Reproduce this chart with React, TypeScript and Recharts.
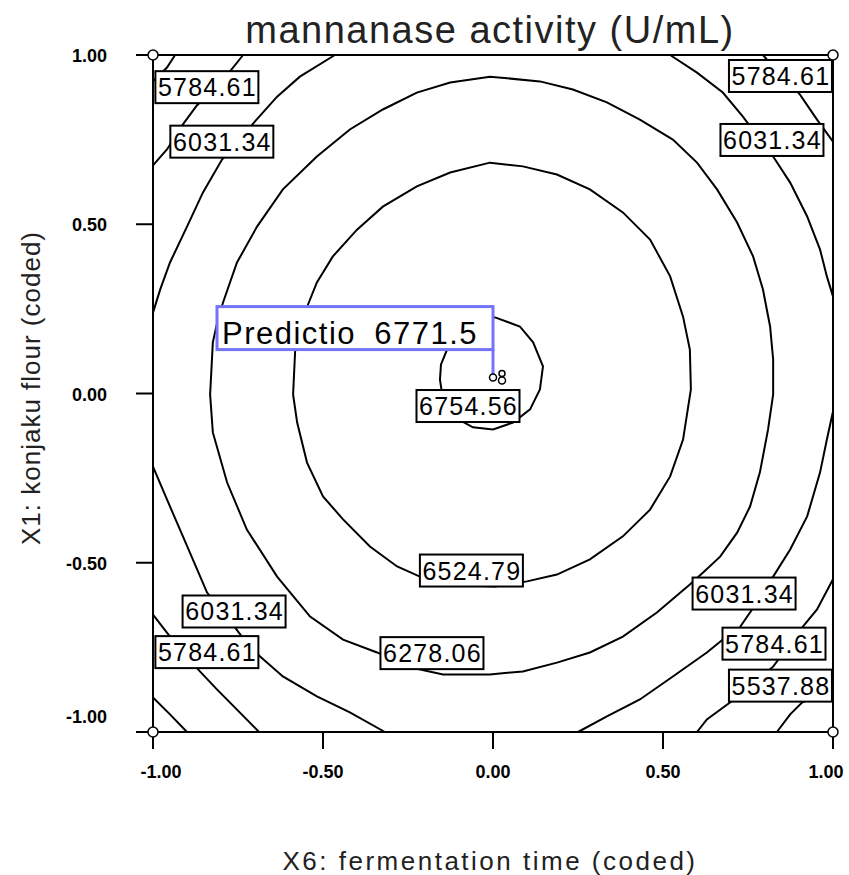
import React from "react";
import { ScatterChart, Scatter, XAxis, YAxis, ReferenceLine } from "recharts";

// coded factor axes
const axisTicks = [-1, -0.5, 0, 0.5, 1];
const axisTickLabels = ["-1.00", "-0.50", "0.00", "0.50", "1.00"];

const chartTitle = "mannanase activity (U/mL)";
const xTitle = "X6: fermentation time (coded)";
const yTitle = "X1: konjaku flour (coded)";

// contour lines, [x, y] in coded units
const contour6754_56 = [
  [0.006, 0.225], [0.079, 0.198], [0.118, 0.151], [0.147, 0.08], [0.138, 0.012],
  [0.109, -0.047], [0.059, -0.086], [0, -0.106], [-0.059, -0.1], [-0.112, -0.071],
  [-0.147, -0.018], [-0.156, 0.041], [-0.153, 0.086], [-0.135, 0.13], [-0.103, 0.177],
  [-0.053, 0.213], [0.006, 0.225],
];

const contour6524_79 = [
  [-0.588, -0.003], [-0.582, 0.124], [-0.565, 0.195], [-0.544, 0.263], [-0.518, 0.328],
  [-0.471, 0.405], [-0.4, 0.484], [-0.324, 0.552], [-0.224, 0.612], [-0.126, 0.653],
  [-0.009, 0.682], [0.088, 0.671], [0.188, 0.647], [0.285, 0.603], [0.382, 0.535],
  [0.462, 0.455], [0.521, 0.346], [0.559, 0.227], [0.579, 0.13], [0.582, 0.012],
  [0.559, -0.136], [0.521, -0.245], [0.462, -0.343], [0.382, -0.422], [0.285, -0.49],
  [0.188, -0.535], [0.1, -0.555], [0.006, -0.57], [-0.074, -0.567], [-0.156, -0.555],
  [-0.215, -0.541], [-0.282, -0.511], [-0.362, -0.452], [-0.441, -0.372], [-0.5, -0.304],
  [-0.547, -0.204], [-0.576, -0.086], [-0.588, -0.003],
];

const contour6278_06 = [
  [-0.832, -0.003], [-0.824, 0.151], [-0.809, 0.219], [-0.794, 0.269], [-0.753, 0.387],
  [-0.694, 0.493], [-0.618, 0.603], [-0.518, 0.7], [-0.421, 0.78], [-0.324, 0.839],
  [-0.224, 0.889], [-0.126, 0.919], [-0.009, 0.936], [0.138, 0.922], [0.235, 0.898],
  [0.335, 0.86], [0.432, 0.809], [0.529, 0.75], [0.6, 0.682], [0.659, 0.603],
  [0.718, 0.505], [0.765, 0.405], [0.794, 0.307], [0.815, 0.198], [0.824, 0.1],
  [0.824, -0.003], [0.809, -0.106], [0.785, -0.233], [0.756, -0.334], [0.718, -0.411],
  [0.668, -0.482], [0.618, -0.529], [0.579, -0.564], [0.482, -0.647], [0.382, -0.718],
  [0.285, -0.765], [0.188, -0.795], [0.088, -0.821], [-0.009, -0.83], [-0.147, -0.83],
  [-0.244, -0.809], [-0.341, -0.765], [-0.441, -0.727], [-0.538, -0.659], [-0.635, -0.541],
  [-0.724, -0.402], [-0.782, -0.263], [-0.824, -0.115], [-0.832, -0.003],
];

// the outer levels are cut by the frame, so they come in pieces
const contour6031_34 = [
  [
    [-0.465, 1], [-0.568, 0.936], [-0.635, 0.877], [-0.7, 0.804], [-0.75, 0.744],
    [-0.797, 0.691], [-0.853, 0.594], [-0.9, 0.493], [-0.95, 0.387], [-0.979, 0.307], [-1, 0.239],
  ],
  [
    [-1, -0.216], [-0.959, -0.313], [-0.912, -0.422], [-0.841, -0.588], [-0.797, -0.641],
    [-0.759, -0.691], [-0.721, -0.742], [-0.685, -0.777], [-0.618, -0.836], [-0.518, -0.895],
    [-0.421, -0.942], [-0.318, -1],
  ],
  [
    [0.25, -1], [0.335, -0.954], [0.432, -0.904], [0.529, -0.836], [0.629, -0.765],
    [0.676, -0.727], [0.726, -0.691], [0.762, -0.638], [0.824, -0.541], [0.874, -0.461],
    [0.924, -0.363], [0.962, -0.233], [0.982, -0.136], [1, -0.053],
  ],
  [
    [0.521, 1], [0.6, 0.948], [0.676, 0.889], [0.735, 0.818], [0.779, 0.759],
    [0.824, 0.7], [0.874, 0.623], [0.924, 0.523], [0.962, 0.425], [0.982, 0.346], [1, 0.287],
  ],
];

const contour5784_61 = [
  [[-0.735, 1], [-0.774, 0.951], [-0.824, 0.898], [-0.871, 0.851], [-0.912, 0.795], [-0.959, 0.721], [-1, 0.674]],
  [[-1, -0.653], [-0.95, -0.718], [-0.906, -0.771], [-0.862, -0.821], [-0.812, -0.874], [-0.753, -0.934], [-0.688, -1]],
  [
    [1, -0.549], [0.953, -0.638], [0.912, -0.688], [0.868, -0.747], [0.824, -0.807],
    [0.756, -0.863], [0.697, -0.913], [0.629, -0.963], [0.6, -1],
  ],
  [[0.794, 1], [0.844, 0.942], [0.903, 0.883], [0.953, 0.809], [1, 0.744]],
];

const contour5537_88 = [
  [[-0.935, 1], [-0.959, 0.963], [-1, 0.922]],
  [[-1, -0.898], [-0.95, -0.948], [-0.9, -1]],
  [[1, -0.857], [0.947, -0.895], [0.909, -0.913], [0.874, -0.948], [0.835, -1]],
];

// where the level boxes sit
const labelX = [-0.843, -0.799, 0.844, 0.819, -0.075, -0.065, -0.181, -0.763, -0.843, 0.737, 0.825, 0.844];
const labelY = [0.905, 0.744, 0.938, 0.749, -0.037, -0.523, -0.767, -0.644, -0.764, -0.591, -0.739, -0.863];
const labelText = [
  "5784.61", "6031.34", "5784.61", "6031.34", "6754.56", "6524.79",
  "6278.06", "6031.34", "5784.61", "6031.34", "5784.61", "5537.88",
];

const designX = [-1, 1, -1, 1];
const designY = [1, 1, -1, -1];

const predictionX = 0;
const predictionY = 0.047;
const predictionValue = "6771.5";

const FONT = "'Liberation Sans', Arial, sans-serif";

const toPts = (a: number[][]) => a.map(([x, y]) => ({ x, y }));

const contourPieces: { x: number; y: number }[][] = [
  toPts(contour6754_56),
  toPts(contour6524_79),
  toPts(contour6278_06),
  ...contour6031_34.map(toPts),
  ...contour5784_61.map(toPts),
  ...contour5537_88.map(toPts),
];

const labelData = labelText.map((text, i) => ({ x: labelX[i], y: labelY[i], text }));
const designData = designX.map((x, i) => ({ x, y: designY[i] }));
const predictionData = [{ x: predictionX, y: predictionY, value: predictionValue }];

const NoDot = () => <g />;

const XTick = (props: any) => {
  const { x, y, payload } = props;
  const v = payload.value;
  const i = axisTicks.findIndex((t) => Math.abs(t - v) < 1e-9);
  const shift = v === -1 ? 8 : v === 1 ? -7 : 0;
  return (
    <text x={x + shift} y={y + 29} textAnchor="middle" fontFamily={FONT} fontWeight="bold" fontSize={18} fill="#000">
      {axisTickLabels[i]}
    </text>
  );
};

const YTick = (props: any) => {
  const { x, y, payload } = props;
  const v = payload.value;
  const i = axisTicks.findIndex((t) => Math.abs(t - v) < 1e-9);
  const dy = v === -1 ? -9 : 7;
  return (
    <text x={x - 29} y={y + dy} textAnchor="end" fontFamily={FONT} fontWeight="bold" fontSize={18} fill="#000">
      {axisTickLabels[i]}
    </text>
  );
};

const LevelBox = (props: any) => {
  const { cx, cy } = props;
  const text = props.payload?.text ?? props.text;
  return (
    <g>
      <rect x={cx - 51} y={cy - 16} width={103} height={32} fill="#fff" stroke="#000" strokeWidth={2} />
      <text x={cx + 1} y={cy + 9} textAnchor="middle" fontFamily={FONT} fontSize={25} letterSpacing={1.2} fill="#000">
        {text}
      </text>
    </g>
  );
};

const DesignPoint = (props: any) => (
  <circle cx={props.cx} cy={props.cy} r={5} fill="#fff" stroke="#000" strokeWidth={1.5} />
);

const PredictionFlag = (props: any) => {
  const { cx, cy } = props;
  const value = props.payload?.value ?? props.value;
  return (
    <g>
      <line x1={cx} y1={cy} x2={cx} y2={cy - 28} stroke="#7474f8" strokeWidth={3} />
      <rect x={cx - 276} y={cy - 71} width={276} height={43} fill="#fff" stroke="#7474f8" strokeWidth={3} />
      <text x={cx - 271} y={cy - 34} fontFamily={FONT} fontSize={31} letterSpacing={1.5} wordSpacing={8} fill="#000">
        {`Predictio ${value}`}
      </text>
      <circle cx={cx} cy={cy} r={3.5} fill="#fff" stroke="#000" strokeWidth={1.5} />
      <circle cx={cx + 9} cy={cy - 4} r={3} fill="#fff" stroke="#000" strokeWidth={1.5} />
      <circle cx={cx + 9} cy={cy + 3} r={3.5} fill="#fff" stroke="#000" strokeWidth={1.5} />
    </g>
  );
};

export default function App() {
  return (
    <div style={{ position: "absolute", left: 0, top: 0, width: 849, height: 875, background: "#fff" }}>
      <ScatterChart width={849} height={875} margin={{ top: 55, right: 16, bottom: 83, left: 0 }}>
        <XAxis
          type="number"
          dataKey="x"
          domain={[-1, 1]}
          ticks={axisTicks}
          height={60}
          tickSize={17}
          tickMargin={0}
          axisLine={{ stroke: "#000", strokeWidth: 2 }}
          tickLine={{ stroke: "#000", strokeWidth: 2 }}
          tick={<XTick />}
          interval={0}
        />
        <YAxis
          type="number"
          dataKey="y"
          domain={[-1, 1]}
          ticks={axisTicks}
          width={153}
          tickSize={17}
          tickMargin={0}
          axisLine={{ stroke: "#000", strokeWidth: 2 }}
          tickLine={{ stroke: "#000", strokeWidth: 2 }}
          tick={<YTick />}
          interval={0}
        />
        <ReferenceLine y={1} stroke="#000" strokeWidth={2} />
        <ReferenceLine x={1} stroke="#000" strokeWidth={2} />
        {contourPieces.map((pts, i) => (
          <Scatter
            key={`c${i}`}
            data={pts}
            line={{ stroke: "#000", strokeWidth: 2 }}
            shape={NoDot}
            isAnimationActive={false}
          />
        ))}
        <Scatter data={labelData} shape={LevelBox} isAnimationActive={false} />
        <Scatter data={designData} shape={DesignPoint} isAnimationActive={false} />
        <Scatter data={predictionData} shape={PredictionFlag} isAnimationActive={false} />
      </ScatterChart>
      <svg
        width={849}
        height={875}
        style={{ position: "absolute", left: 0, top: 0, pointerEvents: "none" }}
      >
        <text x={490} y={43} textAnchor="middle" fontFamily={FONT} fontSize={38} letterSpacing={1.5} fill="#222">
          {chartTitle}
        </text>
        <text x={490} y={870} textAnchor="middle" fontFamily={FONT} fontSize={26} letterSpacing={2.5} fill="#222">
          {xTitle}
        </text>
        <text
          transform="translate(40,388) rotate(-90)"
          textAnchor="middle"
          fontFamily={FONT}
          fontSize={26}
          letterSpacing={1}
          fill="#222"
        >
          {yTitle}
        </text>
      </svg>
    </div>
  );
}
